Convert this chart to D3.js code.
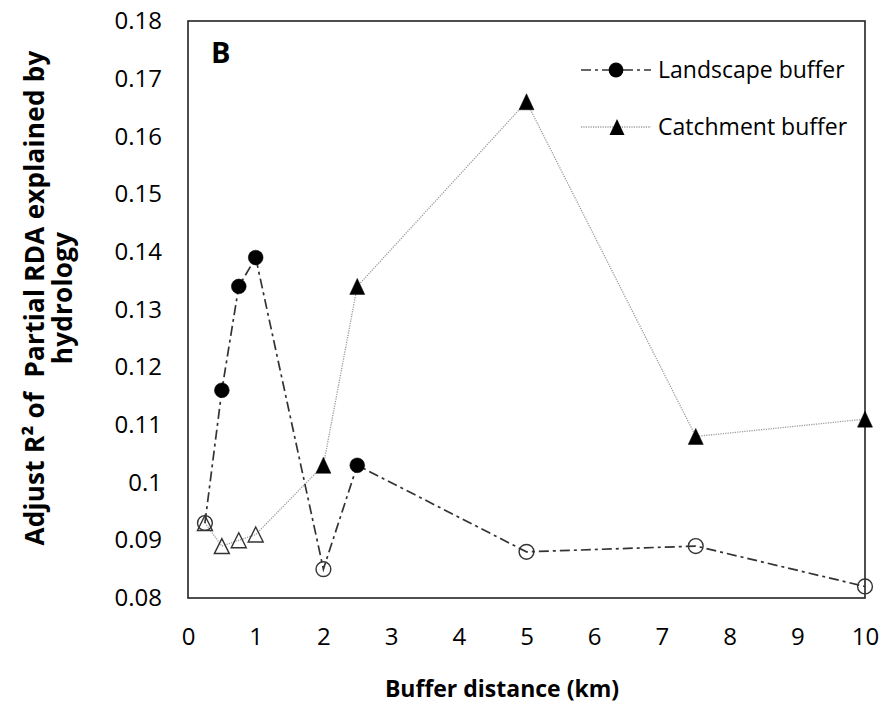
<!DOCTYPE html>
<html>
<head>
<meta charset="utf-8">
<script src="https://cdn.jsdelivr.net/npm/d3@7"></script>
<style>
  html, body { margin: 0; padding: 0; background: #fff; }
  svg { display: block; }
  text { font-family: "Open Sans", Lato, sans-serif; fill: #000; }
</style>
</head>
<body>
<svg id="chart" width="891" height="709"></svg>
<script>
// Buffer distances (km)
const distances = [0.25, 0.5, 0.75, 1, 2, 2.5, 5, 7.5, 10];
// Adjusted R² of partial RDA explained by hydrology
const landscapeValues = [0.093, 0.116, 0.134, 0.139, 0.085, 0.103, 0.088, 0.089, 0.082];
const catchmentValues = [0.093, 0.089, 0.090, 0.091, 0.103, 0.134, 0.166, 0.108, 0.111];
// Filled marker = significant, open marker = not significant
const landscapeFilled = [false, true, true, true, false, true, false, false, false];
const catchmentFilled = [false, false, false, false, true, true, true, true, true];
const xTicks = [0, 1, 2, 3, 4, 5, 6, 7, 8, 9, 10];
const yTicks = [0.08, 0.09, 0.10, 0.11, 0.12, 0.13, 0.14, 0.15, 0.16, 0.17, 0.18];
const seriesNames = ["Landscape buffer", "Catchment buffer"];

const svg = d3.select("#chart");
const margin = { left: 188, right: 26, top: 21, bottom: 111 };
const W = 891, H = 709;
const x = d3.scaleLinear().domain([0, 10]).range([margin.left, W - margin.right]);
const y = d3.scaleLinear().domain([0.08, 0.18]).range([H - margin.bottom, margin.top]);

const fmt = d3.format(".2~f");
const FONT = "'Open Sans', Lato, sans-serif";
const tickFont = 24;

// Y axis labels (no tick marks)
const yAxis = d3.axisLeft(y).tickValues(yTicks).tickFormat(fmt).tickSize(0).tickPadding(26);
const gy = svg.append("g").attr("transform", `translate(${margin.left},0)`).call(yAxis);
gy.select(".domain").remove();
gy.selectAll("text").style("font-size", tickFont + "px").style("font-family", FONT).attr("fill", "#222");

// X axis labels
const xAxis = d3.axisBottom(x).tickValues(xTicks).tickFormat(d3.format("d")).tickSize(0).tickPadding(30);
const gx = svg.append("g").attr("transform", `translate(0,${H - margin.bottom})`).call(xAxis);
gx.select(".domain").remove();
gx.selectAll("text").style("font-size", tickFont + "px").style("font-family", FONT).attr("fill", "#222");

// Plot frame
svg.append("rect")
  .attr("x", x(0)).attr("y", y(0.18))
  .attr("width", x(10) - x(0)).attr("height", y(0.08) - y(0.18))
  .attr("fill", "none").attr("stroke", "#222").attr("stroke-width", 1.6);

// Panel letter
svg.append("text").attr("x", 211).attr("y", 63)
  .style("font-size", "29px").style("font-weight", "bold").text("B");

// Axis titles
svg.append("text").attr("x", 502).attr("y", 697).attr("text-anchor", "middle")
  .style("font-size", "23px").style("font-weight", "bold").text("Buffer distance (km)");

const yTitle = svg.append("text")
  .attr("transform", "translate(0,298) rotate(-90)")
  .attr("text-anchor", "middle")
  .style("white-space", "pre")
  .style("font-size", "26px").style("font-weight", "bold").style("letter-spacing", "0.3px");
yTitle.append("tspan").attr("x", 0).attr("y", 44).text("Adjust R\u00B2 of  Partial RDA explained by");
yTitle.append("tspan").attr("x", 0).attr("y", 72).text("hydrology");

// Line styles
const landscapeStyle = { stroke: "#333", width: 1.7, dash: "10,4,3,4" };
const catchmentStyle = { stroke: "#9a9a9a", width: 1.3, dash: "1.2,1.2" };

const line = d3.line().x(d => x(d[0])).y(d => y(d[1]));
const landscapeData = distances.map((d, i) => [d, landscapeValues[i], landscapeFilled[i]]);
const catchmentData = distances.map((d, i) => [d, catchmentValues[i], catchmentFilled[i]]);

function drawLine(data, st) {
  svg.append("path").datum(data).attr("d", line)
    .attr("fill", "none").attr("stroke", st.stroke)
    .attr("stroke-width", st.width).attr("stroke-dasharray", st.dash);
}
drawLine(catchmentData, catchmentStyle);
drawLine(landscapeData, landscapeStyle);

// Triangle marker shape (slightly taller than wide)
function trianglePath(w, h) {
  const p = d3.path();
  p.moveTo(0, -h / 2); p.lineTo(w / 2, h / 2); p.lineTo(-w / 2, h / 2); p.closePath();
  return p.toString();
}
const triFilled = trianglePath(15, 16);
const triOpen = trianglePath(15, 15);

function drawCircles(data) {
  svg.append("g").selectAll("circle").data(data).join("circle")
    .attr("cx", d => x(d[0])).attr("cy", d => y(d[1]))
    .attr("r", 7.4)
    .attr("fill", d => d[2] ? "#000" : "none")
    .attr("stroke", d => d[2] ? "#000" : "#333")
    .attr("stroke-width", d => d[2] ? 0.5 : 1.4);
}
function drawTriangles(data) {
  svg.append("g").selectAll("path").data(data).join("path")
    .attr("transform", d => `translate(${x(d[0])},${y(d[1])})`)
    .attr("d", d => d[2] ? triFilled : triOpen)
    .attr("fill", d => d[2] ? "#000" : "none")
    .attr("stroke", d => d[2] ? "#000" : "#333")
    .attr("stroke-width", d => d[2] ? 0.5 : 1.4)
    .attr("stroke-linejoin", "miter");
}
drawTriangles(catchmentData);
drawCircles(landscapeData);

// Legend
const legend = svg.append("g");
const legendRows = [
  { name: seriesNames[0], st: landscapeStyle, marker: "circle", y: 70 },
  { name: seriesNames[1], st: catchmentStyle, marker: "triangle", y: 127 }
];
legendRows.forEach(r => {
  legend.append("line").attr("x1", 581).attr("x2", 651).attr("y1", r.y).attr("y2", r.y)
    .attr("stroke", r.st.stroke).attr("stroke-width", r.st.width).attr("stroke-dasharray", r.st.dash);
  if (r.marker === "circle") {
    legend.append("circle").attr("cx", 616).attr("cy", r.y).attr("r", 7.4).attr("fill", "#000");
  } else {
    legend.append("path").attr("transform", `translate(617,${r.y})`).attr("d", triFilled).attr("fill", "#000");
  }
  legend.append("text").attr("x", 658).attr("y", r.y + 8)
    .style("font-size", "23px").attr("fill", "#222").text(r.name);
});
</script>
</body>
</html>
